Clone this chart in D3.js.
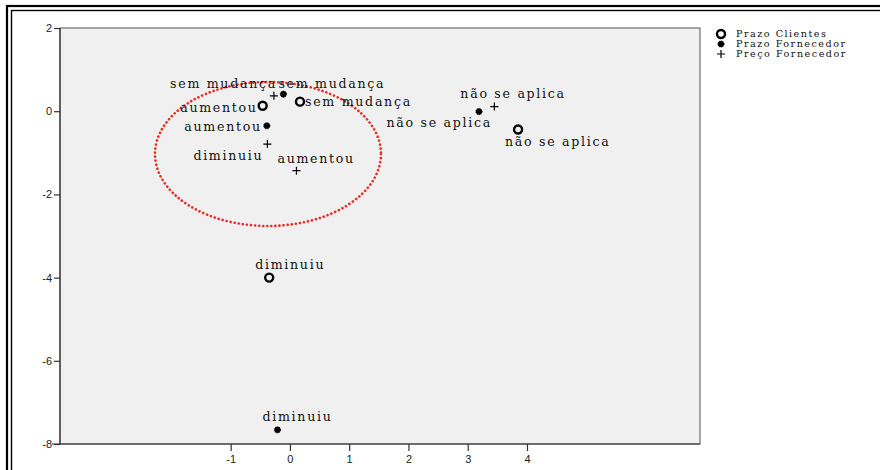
<!DOCTYPE html>
<html>
<head>
<meta charset="utf-8">
<script src="https://cdn.jsdelivr.net/npm/d3@7"></script>
<style>
  html, body { margin: 0; padding: 0; background: #fff; }
  svg { display: block; }
  .pt-label { font-family: "DejaVu Serif", "Liberation Serif", serif; font-size: 12.6px; letter-spacing: 1.7px; fill: #111; }
  .legend-label { font-family: "DejaVu Serif", "Liberation Serif", serif; font-size: 9.6px; letter-spacing: 1.5px; fill: #111; }
  .tick text { font-family: "Liberation Sans", Arial, sans-serif; font-size: 11px; fill: #222; }
</style>
</head>
<body>
<svg id="chart" width="880" height="470"></svg>
<script>
// Category points of the three variables
const categories = ["sem mudança", "aumentou", "diminuiu", "não se aplica"];
const seriesNames = ["Prazo Clientes", "Prazo Fornecedor", "Preço Fornecedor"];

const prazoClientesX = [0.17, -0.46, -0.35, 3.85];
const prazoClientesY = [0.23, 0.13, -4.00, -0.44];

const prazoFornecedorX = [-0.11, -0.39, -0.21, 3.19];
const prazoFornecedorY = [0.41, -0.35, -7.66, -0.01];

const precoFornecedorX = [-0.27, 0.11, -0.38, 3.45];
const precoFornecedorY = [0.37, -1.43, -0.79, 0.11];

const xTicks = [-1, 0, 1, 2, 3, 4];
const yTicks = [2, 0, -2, -4, -6, -8];

const svg = d3.select("#chart");

// outer double frame
svg.append("rect").attr("x", 7).attr("y", 6).attr("width", 900).attr("height", 500)
  .attr("fill", "none").attr("stroke", "#000").attr("stroke-width", 2.2);
svg.append("rect").attr("x", 11.5).attr("y", 10.5).attr("width", 900).attr("height", 500)
  .attr("fill", "none").attr("stroke", "#000").attr("stroke-width", 1.4);

const plot = { left: 60, right: 700, top: 28, bottom: 444 };

const x = d3.scaleLinear().domain([-3.88, 6.92]).range([plot.left, plot.right]);
const y = d3.scaleLinear().domain([-8, 2]).range([plot.bottom, plot.top]);

// plot area
svg.append("rect")
  .attr("x", plot.left).attr("y", plot.top)
  .attr("width", plot.right - plot.left).attr("height", plot.bottom - plot.top)
  .attr("fill", "#f0f0f0").attr("stroke", "#555").attr("stroke-width", 1);

// axes (plain hyphen for negative numbers)
const fmt = d => String(d);
const yAxis = svg.append("g")
  .attr("transform", `translate(${plot.left},0)`)
  .call(d3.axisLeft(y).tickValues(yTicks).tickSize(6).tickPadding(2).tickFormat(fmt));
const xAxis = svg.append("g")
  .attr("transform", `translate(0,${plot.bottom})`)
  .call(d3.axisBottom(x).tickValues(xTicks).tickSize(7).tickPadding(4).tickFormat(fmt));
[xAxis, yAxis].forEach(g => {
  g.select(".domain").attr("stroke", "#333").attr("stroke-width", 1.2);
  g.selectAll(".tick line").attr("stroke", "#333").attr("stroke-width", 1.2);
  g.selectAll(".tick text").attr("fill", "#222");
});
yAxis.select(".domain").attr("d", `M0,${plot.top}V${plot.bottom}`);
xAxis.select(".domain").attr("d", `M${plot.left - 8},0H${plot.right}`);

// highlighted cluster
svg.append("ellipse")
  .attr("cx", 268).attr("cy", 154).attr("rx", 113).attr("ry", 72)
  .attr("fill", "none").attr("stroke", "#f0281e").attr("stroke-width", 2.6)
  .attr("stroke-dasharray", "0.1 4").attr("stroke-linecap", "round");

const series = [
  { name: seriesNames[0], xs: prazoClientesX, ys: prazoClientesY, marker: "ring" },
  { name: seriesNames[1], xs: prazoFornecedorX, ys: prazoFornecedorY, marker: "dot" },
  { name: seriesNames[2], xs: precoFornecedorX, ys: precoFornecedorY, marker: "plus" }
];

// label placement around each point: [dx, dy, anchor]
const labelPlacement = {
  "Prazo Clientes": {
    "sem mudança": [5, 4, "start"], "aumentou": [-5, 6, "end"],
    "diminuiu": [-14, -9, "start"], "não se aplica": [-13, 16, "start"]
  },
  "Prazo Fornecedor": {
    "sem mudança": [-5, -6, "start"], "aumentou": [-5, 5, "end"],
    "diminuiu": [-15, -9, "start"], "não se aplica": [13, 15, "end"]
  },
  "Preço Fornecedor": {
    "sem mudança": [3, -8, "end"], "aumentou": [-19, -8, "start"],
    "diminuiu": [-4, 16, "end"], "não se aplica": [-34, -9, "start"]
  }
};

function drawMarker(g, kind, cx, cy) {
  if (kind === "ring") {
    g.append("circle").attr("cx", cx).attr("cy", cy).attr("r", 4)
      .attr("fill", "none").attr("stroke", "#000").attr("stroke-width", 2.4);
  } else if (kind === "dot") {
    g.append("circle").attr("cx", cx).attr("cy", cy).attr("r", 3.1)
      .attr("fill", "#000").attr("stroke", "#000").attr("stroke-width", 1)
      .attr("stroke-dasharray", "1 1");
  } else {
    g.append("path").attr("d", `M${cx - 4},${cy}H${cx + 4}M${cx},${cy - 4}V${cy + 4}`)
      .attr("stroke", "#000").attr("stroke-width", 1.2);
  }
}

const pts = svg.append("g");
series.forEach(s => {
  categories.forEach((cat, i) => {
    const cx = x(s.xs[i]), cy = y(s.ys[i]);
    drawMarker(pts, s.marker, cx, cy);
    const [dx, dy, anchor] = labelPlacement[s.name][cat];
    pts.append("text").attr("class", "pt-label")
      .attr("x", cx + dx).attr("y", cy + dy)
      .attr("text-anchor", anchor).text(cat);
  });
});

// legend
const legend = svg.append("g").attr("transform", "translate(721,34)");
series.forEach((s, i) => {
  const gy = i * 10;
  drawMarker(legend, s.marker, 0, gy);
  legend.append("text").attr("class", "legend-label")
    .attr("x", 15).attr("y", gy + 3.3).text(s.name);
});
</script>
</body>
</html>
